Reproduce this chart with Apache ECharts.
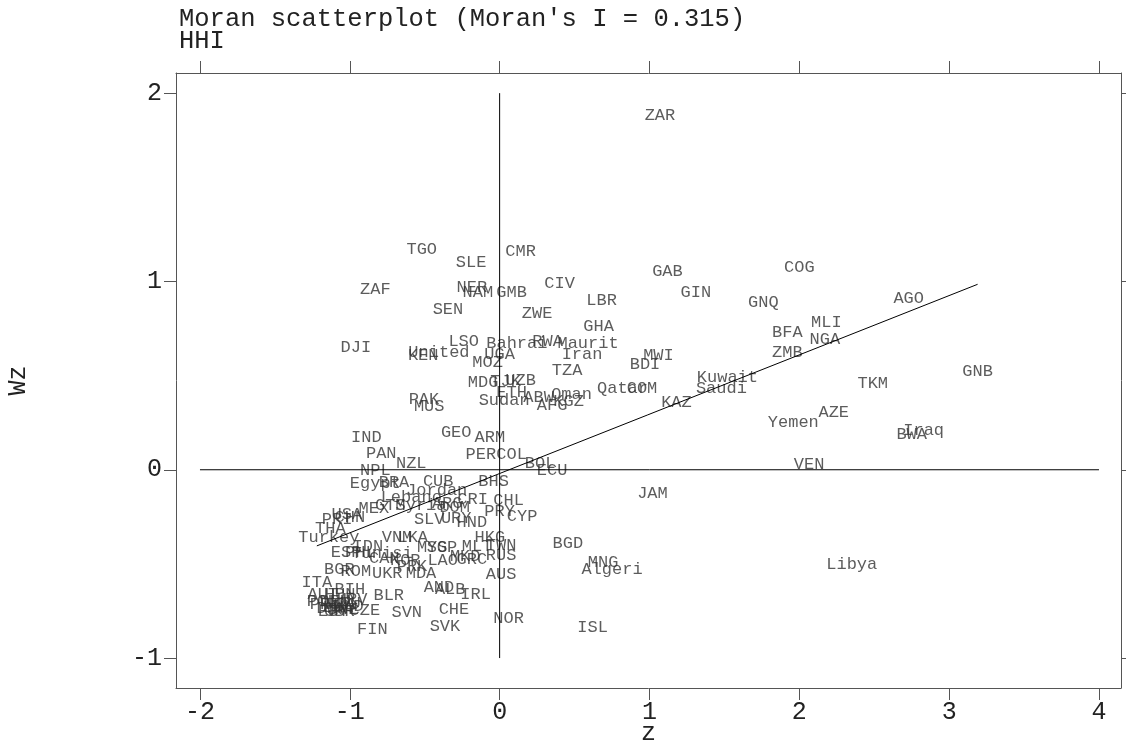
<!DOCTYPE html>
<html><head><meta charset="utf-8">
<script src="https://cdn.jsdelivr.net/npm/echarts@6/dist/echarts.min.js"></script>
<style>html,body{margin:0;padding:0;background:#fff}#c{width:1126px;height:743px}</style>
</head><body><div id="c"></div>
<script>
const titleLines = ["Moran scatterplot (Moran's I = 0.315)", "HHI"];
const xName = 'z';
const yName = 'Wz';
const xTicks = [-2, -1, 0, 1, 2, 3, 4];
const yTicks = [-1, 0, 1, 2];
const moranI = 0.315;
const fitIntercept = -0.02;

const names = ["ZAR","TGO","CMR","SLE","NER","NAM","GMB","ZAF","SEN","CIV","ZWE","LBR","GHA","GAB","GIN","COG","GNQ","AGO","MLI","NGA","BFA","ZMB","MWI","BDI","Kuwait","Saudi","KAZ","Qatar","COM","Oman","LSO","Bahrai","RWA","Maurit","United","KEN","UGA","MOZ","Iran","TZA","MDG","TJK","UZB","ETH","ABW","KGZ","AFG","Sudan","PAK","MUS","GEO","ARM","DJI","IND","PAN","NZL","PER","COL","BOL","ECU","NPL","BRA","Egypt","CUB","BHS","Jordan","Lebano","CRI","CHL","MEX","GTM","Syria","ARG","DOM","USA","CHN","PRI","THA","Turkey","SLV","URY","HND","PRY","CYP","JAM","VEN","VNM","LKA","IDN","ESP","PHL","Tunisi","HKG","TWN","MLT","RUS","MYS","SGP","KOR","CAN","PRK","LAO","MKD","GRC","BGD","MNG","Algeri","ISL","Libya","AUS","BGR","ROM","UKR","MDA","ITA","BIH","BLR","AND","ALB","IRL","CHE","SVN","SVK","NOR","FIN","CZE","AUT","HUN","POL","PRT","DEU","FRA","LTU","LVA","EST","SWE","DNK","NLD","HRV","GBR","GNB","TKM","AZE","Yemen","Iraq","BWA"];
const zx = [1.07,-0.52,0.14,-0.19,-0.185,-0.145,0.08,-0.83,-0.345,0.40,0.25,0.68,0.66,1.12,1.31,2.00,1.76,2.73,2.18,2.17,1.92,1.92,1.06,0.97,1.52,1.48,1.18,0.82,0.95,0.48,-0.24,0.115,0.32,0.59,-0.405,-0.51,0.0,-0.08,0.55,0.45,-0.11,0.04,0.14,0.08,0.26,0.46,0.35,0.03,-0.505,-0.47,-0.29,-0.065,-0.96,-0.89,-0.79,-0.59,-0.125,0.08,0.27,0.35,-0.83,-0.705,-0.83,-0.41,-0.04,-0.42,-0.59,-0.18,0.06,-0.84,-0.73,-0.525,-0.35,-0.30,-1.02,-1.00,-1.085,-1.13,-1.14,-0.47,-0.29,-0.185,0.0,0.15,1.02,2.065,-0.685,-0.58,-0.88,-1.025,-0.93,-0.785,-0.065,0.01,-0.15,0.01,-0.45,-0.385,-0.63,-0.77,-0.585,-0.38,-0.23,-0.185,0.455,0.69,0.75,0.62,2.35,0.01,-1.07,-0.96,-0.75,-0.525,-1.22,-1.00,-0.74,-0.405,-0.33,-0.16,-0.305,-0.62,-0.365,0.06,-0.85,-0.90,-1.18,-1.065,-1.185,-1.165,-1.10,-1.065,-1.03,-1.08,-1.11,-1.045,-1.12,-1.01,-0.985,-1.07,3.19,2.49,2.23,1.96,2.83,2.75];
const wz = [1.88,1.17,1.16,1.10,0.97,0.94,0.94,0.955,0.85,0.99,0.83,0.90,0.76,1.055,0.94,1.075,0.89,0.91,0.78,0.69,0.73,0.625,0.605,0.56,0.49,0.43,0.355,0.43,0.43,0.40,0.68,0.67,0.68,0.67,0.625,0.605,0.61,0.57,0.61,0.525,0.465,0.47,0.475,0.41,0.385,0.365,0.34,0.37,0.375,0.335,0.20,0.17,0.65,0.17,0.085,0.035,0.08,0.08,0.035,-0.005,-0.005,-0.07,-0.075,-0.06,-0.06,-0.11,-0.145,-0.16,-0.165,-0.205,-0.19,-0.19,-0.18,-0.20,-0.235,-0.255,-0.265,-0.31,-0.36,-0.265,-0.26,-0.28,-0.22,-0.25,-0.125,0.03,-0.36,-0.36,-0.405,-0.44,-0.44,-0.445,-0.36,-0.40,-0.405,-0.455,-0.415,-0.415,-0.48,-0.47,-0.515,-0.48,-0.46,-0.475,-0.39,-0.495,-0.53,-0.84,-0.505,-0.555,-0.53,-0.54,-0.55,-0.55,-0.60,-0.635,-0.67,-0.625,-0.635,-0.665,-0.74,-0.76,-0.83,-0.79,-0.85,-0.745,-0.665,-0.665,-0.70,-0.715,-0.70,-0.715,-0.71,-0.73,-0.755,-0.74,-0.735,-0.725,-0.69,-0.755,0.52,0.46,0.305,0.25,0.21,0.185];

const FONT = 'Liberation Mono';
const axisCol = '#555';
const txtCol = '#222';
const AX_FS = 25;

const pts = names.map((n, i) => ({ name: n, value: [zx[i], wz[i]] }));
const xLo = Math.min(...zx), xHi = Math.max(...zx);
const fitLine = [[xLo, fitIntercept + moranI * xLo], [xHi, fitIntercept + moranI * xHi]];
const hLine = [[xTicks[0], 0], [xTicks[xTicks.length - 1], 0]];
const vLine = [[0, yTicks[0]], [0, yTicks[yTicks.length - 1]]];

const xMin = -2.16, xMax = 4.147, yMin = -1.159, yMax = 2.107;

function xa(pos, labels) {
  return {
    type: 'value', position: pos, min: xMin, max: xMax,
    axisLine: { show: true, onZero: false, lineStyle: { color: axisCol, width: 1 } },
    axisTick: { show: true, inside: false, length: 12, customValues: xTicks, lineStyle: { color: axisCol } },
    axisLabel: { show: labels, customValues: xTicks, margin: 12, fontFamily: FONT, fontSize: AX_FS, color: txtCol },
    splitLine: { show: false }
  };
}
function ya(pos, labels) {
  return {
    type: 'value', position: pos, min: yMin, max: yMax,
    name: labels ? yName : '', nameLocation: 'middle', nameGap: 145, nameRotate: 90,
    nameTextStyle: { fontFamily: FONT, fontSize: AX_FS, color: txtCol },
    axisLine: { show: true, onZero: false, lineStyle: { color: axisCol, width: 1 } },
    axisTick: { show: true, inside: false, length: labels ? 12 : 6, customValues: yTicks, lineStyle: { color: axisCol } },
    axisLabel: { show: labels, customValues: yTicks, margin: 14, fontFamily: FONT, fontSize: AX_FS, color: txtCol },
    splitLine: { show: false }
  };
}

const chart = echarts.init(document.getElementById('c'), null, { renderer: 'canvas' });
chart.setOption({
  animation: false,
  backgroundColor: '#fff',
  title: {
    text: titleLines.join('\n'), left: 174, top: 3,
    textStyle: { fontFamily: FONT, fontSize: 25.5, fontWeight: 'normal', color: txtCol, lineHeight: 22 }
  },
  graphic: [{
    type: 'text', left: 641, top: 721,
    style: { text: xName, font: AX_FS + 'px "' + FONT + '"', fill: txtCol }
  }],
  grid: { left: 176, right: 5, top: 73, bottom: 55, containLabel: false, outerBoundsMode: 'none' },
  xAxis: [xa('bottom', true), xa('top', false)],
  yAxis: [ya('left', true), ya('right', false)],
  series: [
    { type: 'line', data: hLine, symbol: 'none', silent: true, lineStyle: { color: '#000', width: 1 } },
    { type: 'line', data: vLine, symbol: 'none', silent: true, lineStyle: { color: '#000', width: 1 } },
    { type: 'line', data: fitLine, symbol: 'none', silent: true, lineStyle: { color: '#000', width: 1 } },
    {
      type: 'scatter', data: pts, symbolSize: 1, itemStyle: { color: 'rgba(0,0,0,0)' },
      label: { show: true, position: 'inside', formatter: '{b}', fontFamily: FONT, fontSize: 17, color: '#333' },
      labelLayout: { hideOverlap: false }
    }
  ]
});
</script></body></html>
